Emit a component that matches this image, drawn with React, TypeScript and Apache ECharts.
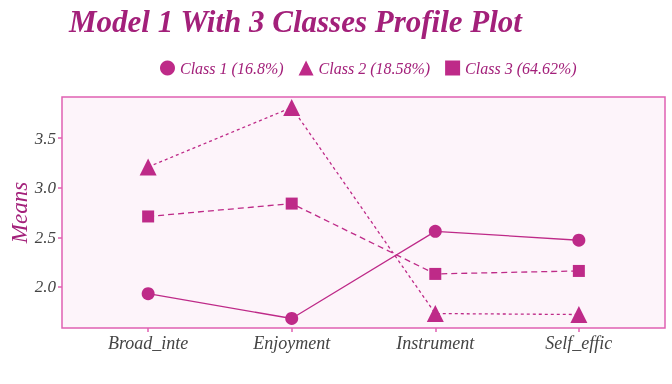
import React, { useEffect, useRef } from "react";
import * as echarts from "echarts";

const categories = ["Broad_inte", "Enjoyment", "Instrument", "Self_effic"];
const class1 = [1.93, 1.68, 2.56, 2.47];
const class2 = [3.21, 3.81, 1.73, 1.72];
const class3 = [2.71, 2.84, 2.13, 2.16];
const seriesNames = ["Class 1 (16.8%)", "Class 2 (18.58%)", "Class 3 (64.62%)"];
const yTicks = [2.0, 2.5, 3.0, 3.5];

const MAG = "#BE2A88";
const TXT = "#A3207A";
const LBL = "#444444";
const FONT = "Liberation Serif";

export default function App() {
  const ref = useRef<HTMLDivElement>(null);
  useEffect(() => {
    if (!ref.current) return;
    const chart = echarts.init(ref.current, null, { renderer: "svg" });
    const mk = (vals: number[]) => vals.map((v, i) => [i + 1, v]);
    const lineTypes: any[] = ["solid", [3, 3], [6, 4]];
    const symbols = ["circle", "triangle", "rect"];
    const sizes = [13, 17, 12];
    const all = [class1, class2, class3];
    chart.setOption({
      animation: false,
      title: {
        text: "Model 1 With 3 Classes Profile Plot",
        left: 64,
        top: 1,
        textStyle: { fontFamily: FONT, fontStyle: "italic", fontWeight: "bold", fontSize: 31, color: TXT },
      },
      legend: {
        left: 155,
        top: 55,
        itemWidth: 15,
        itemHeight: 15,
        itemGap: 15,
        textStyle: { fontFamily: FONT, fontStyle: "italic", fontSize: 16, color: TXT },
        data: seriesNames.map((n, i) => ({ name: n, icon: ["circle", "triangle", "rect"][i] })),
      },
      grid: {
        left: 62,
        right: 7,
        top: 97,
        bottom: 56,
        show: true,
        outerBoundsMode: "none",
        containLabel: false,
        backgroundColor: "#FDF4FA",
        borderColor: "#E060B2",
        borderWidth: 1.5,
      },
      xAxis: {
        type: "value",
        min: 0.4,
        max: 4.6,
        splitLine: { show: false },
        axisLine: { show: false },
        axisTick: { show: true, customValues: [1, 2, 3, 4], length: 4, lineStyle: { color: "#E060B2", width: 1.5 } },
        axisLabel: {
          customValues: [1, 2, 3, 4],
          formatter: (v: number) => categories[Math.round(v) - 1] ?? "",
          fontFamily: FONT,
          fontStyle: "italic",
          fontSize: 18,
          color: LBL,
          margin: 6,
        },
      },
      yAxis: {
        type: "value",
        min: 1.584,
        max: 3.916,
        name: "Means",
        nameLocation: "middle",
        nameGap: 31,
        nameMoveOverlap: false,
        nameTextStyle: { fontFamily: FONT, fontStyle: "italic", fontSize: 23, color: TXT },
        splitLine: { show: false },
        axisLine: { show: false },
        axisTick: { show: true, customValues: yTicks, length: 4, lineStyle: { color: "#E060B2", width: 1.5 } },
        axisLabel: {
          customValues: yTicks,
          formatter: (v: number) => v.toFixed(1),
          fontFamily: FONT,
          fontStyle: "italic",
          fontSize: 17,
          color: LBL,
          margin: 6,
        },
      },
      series: all.map((vals, i) => ({
        type: "line",
        name: seriesNames[i],
        data: mk(vals),
        symbol: symbols[i],
        symbolSize: sizes[i],
        itemStyle: { color: MAG },
        lineStyle: { color: MAG, width: 1.3, type: lineTypes[i] },
        z: 3,
      })),
    });
    return () => chart.dispose();
  }, []);
  return <div ref={ref} style={{ position: "fixed", left: 0, top: 0, width: 672, height: 384 }} />;
}
